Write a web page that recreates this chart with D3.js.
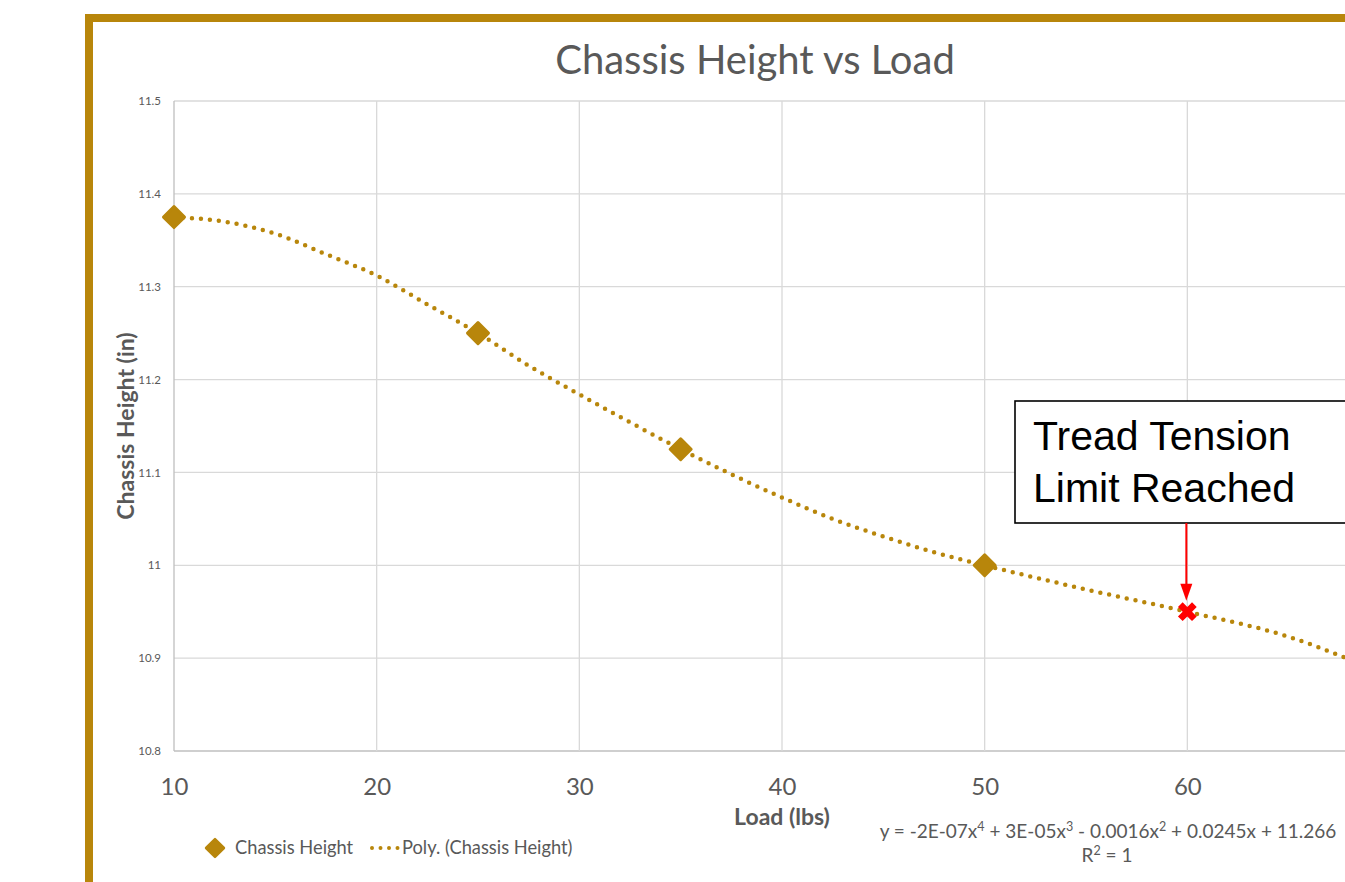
<!DOCTYPE html>
<html>
<head>
<meta charset="utf-8">
<script src="https://cdnjs.cloudflare.com/ajax/libs/d3/7.8.5/d3.min.js"></script>
<style>
    body { margin: 0; background: #fff; overflow: hidden; }
    svg text { font-family: Lato, "Open Sans", sans-serif; }
</style>
</head>
<body>
<script>
// Measured points
const loads = [10, 25, 35, 50]
const heights = [11.375, 11.25, 11.125, 11.0]

// Tread tension limit
const limitLoads = [60]
const limitHeights = [10.95]

// Poly trendline
const trendLoads = [10, 12.5, 15, 17.5, 20, 22.5, 25, 27.5, 30, 32.5, 35, 37.5, 40, 42.5, 45, 47.5, 50, 55, 60, 65, 70]
const trendHeights = [11.375, 11.370, 11.357, 11.335, 11.312, 11.281, 11.25, 11.215, 11.184, 11.154, 11.125, 11.098, 11.073, 11.050, 11.031, 11.014, 11.0, 10.974, 10.95, 10.923, 10.880]

// Ticks (70 sits past the cropped right edge, so it gets a gridline but no label)
const xTicks = [10, 20, 30, 40, 50, 60, 70]
const xTickLabels = ['10', '20', '30', '40', '50', '60', '']
const yTicks = [10.8, 10.9, 11, 11.1, 11.2, 11.3, 11.4, 11.5]
const yTickLabels = ['10.8', '10.9', '11', '11.1', '11.2', '11.3', '11.4', '11.5']

document.addEventListener('DOMContentLoaded', function(){

    const width = 1345
    const height = 882
    const plot = {"left": 174, "right": 1390, "top": 101, "bottom": 751}
    const gold = '#B8860B'
    const grey = '#595959'

    const svg = d3.select("body")
        .append("svg")
        .attr("width", width)
        .attr("height", height)

    // Gold frame
    svg.append('rect')
        .attr('x', 89).attr('y', 18)
        .attr('width', 1400).attr('height', 1000)
        .attr('fill', 'none')
        .attr('stroke', gold)
        .attr('stroke-width', 8)

    const xScale = d3.scaleLinear().domain([10, 70]).range([plot.left, plot.right])
    const yScale = d3.scaleLinear().domain([10.8, 11.5]).range([plot.bottom, plot.top])

    // Grid
    svg.append('g')
        .selectAll('line')
        .data(yTicks)
        .enter()
        .append('line')
            .attr('x1', plot.left).attr('x2', plot.right)
            .attr('y1', d => yScale(d)).attr('y2', d => yScale(d))
            .attr('stroke', d => d === 10.8 ? '#bfbfbf' : '#d9d9d9')
            .attr('stroke-width', 1.3)

    svg.append('g')
        .selectAll('line')
        .data(xTicks)
        .enter()
        .append('line')
            .attr('x1', d => xScale(d)).attr('x2', d => xScale(d))
            .attr('y1', plot.top).attr('y2', plot.bottom)
            .attr('stroke', d => d === 10 ? '#bfbfbf' : '#d9d9d9')
            .attr('stroke-width', 1.3)

    // Axes (labels only)
    const xAxis = svg.append('g')
        .attr('transform', `translate(0, ${plot.bottom + 24})`)
        .call(d3.axisBottom(xScale).tickValues(xTicks).tickSize(0).tickFormat((d, i) => xTickLabels[i]))
    xAxis.select('.domain').remove()
    xAxis.selectAll('text')
        .attr('fill', grey)
        .style('font-size', '24px')

    const yAxis = svg.append('g')
        .attr('transform', `translate(${plot.left - 10}, 0)`)
        .call(d3.axisLeft(yScale).tickValues(yTicks).tickSize(0).tickFormat((d, i) => yTickLabels[i]))
    yAxis.select('.domain').remove()
    yAxis.selectAll('text')
        .attr('fill', grey)
        .style('font-size', '11.5px')

    // Titles
    svg.append('text')
        .attr('x', 755).attr('y', 74)
        .attr('text-anchor', 'middle')
        .attr('fill', grey)
        .style('font-size', '40px')
        .text('Chassis Height vs Load')

    svg.append('text')
        .attr('x', (plot.left + plot.right) / 2).attr('y', 825)
        .attr('text-anchor', 'middle')
        .attr('fill', grey)
        .style('font-size', '23px')
        .style('font-weight', 'bold')
        .text('Load (lbs)')

    svg.append('text')
        .attr('transform', `translate(134, ${(plot.top + plot.bottom) / 2}) rotate(-90)`)
        .attr('text-anchor', 'middle')
        .attr('fill', grey)
        .style('font-size', '23px')
        .style('font-weight', 'bold')
        .text('Chassis Height (in)')

    // Trendline
    const trend = trendLoads.map((d, i) => ({x: d, y: trendHeights[i]}))
    const line = d3.line()
        .x(d => xScale(d.x))
        .y(d => yScale(d.y))
        .curve(d3.curveMonotoneX)

    svg.append('path')
        .datum(trend)
        .attr('d', line)
        .attr('fill', 'none')
        .attr('stroke', gold)
        .attr('stroke-width', 4.5)
        .attr('stroke-linecap', 'round')
        .attr('stroke-dasharray', '0 9')

    // Markers
    const diamond = d3.symbol().type(d3.symbolSquare).size(220)
    svg.append('g')
        .selectAll('path')
        .data(loads.map((d, i) => ({x: d, y: heights[i]})))
        .enter()
        .append('path')
            .attr('d', diamond)
            .attr('transform', d => `translate(${xScale(d.x)}, ${yScale(d.y)}) rotate(45)`)
            .attr('fill', gold)
            .attr('stroke', gold)
            .attr('stroke-width', 3)
            .attr('stroke-linejoin', 'round')

    // Annotation
    const lx = xScale(limitLoads[0])
    const ly = yScale(limitHeights[0])

    const note = svg.append('g')
    note.append('rect')
        .attr('x', 1015).attr('y', 401)
        .attr('width', 360).attr('height', 122)
        .attr('fill', '#fff')
        .attr('stroke', '#000')
        .attr('stroke-width', 1.6)
    note.selectAll('text')
        .data(['Tread Tension', 'Limit Reached'])
        .enter()
        .append('text')
            .attr('x', 1033)
            .attr('y', (d, i) => 450 + i * 52)
            .attr('fill', '#000')
            .style('font-family', '"Liberation Sans", Arial, sans-serif')
            .style('font-size', '41px')
            .text(d => d)

    note.append('line')
        .attr('x1', lx - 1).attr('x2', lx - 1)
        .attr('y1', 523).attr('y2', ly - 24)
        .attr('stroke', '#ff0000')
        .attr('stroke-width', 2)
    note.append('path')
        .attr('d', `M${lx - 7},${ly - 28} L${lx + 5},${ly - 28} L${lx - 1},${ly - 11} Z`)
        .attr('fill', '#ff0000')

    svg.append('g')
        .selectAll('path')
        .data(limitLoads.map((d, i) => ({x: d, y: limitHeights[i]})))
        .enter()
        .append('path')
            .attr('d', d3.symbol().type(d3.symbolCross).size(220))
            .attr('transform', d => `translate(${xScale(d.x)}, ${yScale(d.y)}) rotate(45)`)
            .attr('fill', '#ff0000')

    // Legend
    const legend = svg.append('g')
    legend.append('path')
        .attr('d', d3.symbol().type(d3.symbolSquare).size(160))
        .attr('transform', 'translate(215, 848) rotate(45)')
        .attr('fill', gold)
        .attr('stroke', gold)
        .attr('stroke-width', 2.5)
        .attr('stroke-linejoin', 'round')
    legend.append('text')
        .attr('x', 235).attr('y', 854)
        .attr('fill', grey)
        .style('font-size', '18.3px')
        .text('Chassis Height')
    legend.append('line')
        .attr('x1', 372).attr('x2', 398)
        .attr('y1', 848).attr('y2', 848)
        .attr('stroke', gold)
        .attr('stroke-width', 4)
        .attr('stroke-linecap', 'round')
        .attr('stroke-dasharray', '0 8.5')
    legend.append('text')
        .attr('x', 402).attr('y', 854)
        .attr('fill', grey)
        .style('font-size', '18.3px')
        .text('Poly. (Chassis Height)')

    // Equation
    const eq = svg.append('text')
        .attr('x', 1108).attr('y', 838)
        .attr('text-anchor', 'middle')
        .attr('fill', grey)
        .style('font-size', '19px')
    const parts = [['y = -2E-07x', '4'], [' + 3E-05x', '3'], [' - 0.0016x', '2'], [' + 0.0245x + 11.266', null]]
    let raised = false
    parts.forEach(p => {
        eq.append('tspan').attr('dy', raised ? 7 : 0).text(p[0])
        raised = false
        if (p[1]) {
            eq.append('tspan').attr('dy', -7).style('font-size', '12.5px').text(p[1])
            raised = true
        }
    })
    const r2 = svg.append('text')
        .attr('x', 1107).attr('y', 862)
        .attr('text-anchor', 'middle')
        .attr('fill', grey)
        .style('font-size', '19px')
    r2.append('tspan').text('R')
    r2.append('tspan').attr('dy', -7).style('font-size', '12.5px').text('2')
    r2.append('tspan').attr('dy', 7).text(' = 1')

});
</script>
</body>
</html>
